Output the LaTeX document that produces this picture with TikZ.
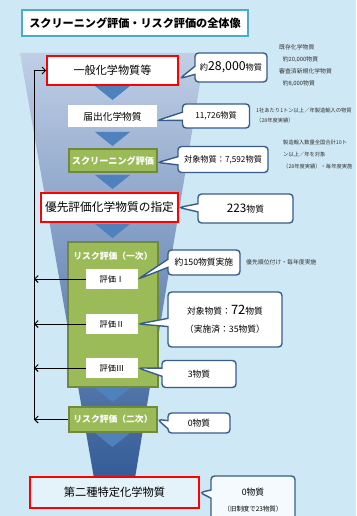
\documentclass[tikz,border=0pt]{standalone}
\usepackage{fontspec}
\setmainfont{Noto Sans CJK JP}
\usetikzlibrary{shapes.callouts,arrows.meta}

\definecolor{bgblue}{RGB}{206,233,245}
\definecolor{framecyan}{RGB}{75,172,198}
\definecolor{boxred}{RGB}{255,0,0}
\definecolor{leafgreen}{RGB}{155,187,89}
\definecolor{leafdark}{RGB}{113,137,63}
\definecolor{wedgeblue}{RGB}{79,129,189}
\definecolor{bubbleline}{RGB}{56,93,138}
\definecolor{funtop}{RGB}{192,207,230}
\definecolor{funmid}{RGB}{150,175,214}
\definecolor{funbot}{RGB}{50,90,150}
\definecolor{paleblue}{RGB}{228,242,249}

\newcommand{\fs}[1]{\fontsize{#1}{#1}\selectfont}
\tikzset{sz/.style 2 args={minimum width=#1*0.03cm,minimum height=#2*0.03cm}}

\begin{document}
\begin{tikzpicture}[x=0.03cm,y=-0.03cm]
	\tikzstyle{redbox}=[shape=rectangle,draw=boxred,line width=1.5pt,fill=white,inner sep=0pt]
	\tikzstyle{plainbox}=[shape=rectangle,fill=white,inner sep=0pt]
	\tikzstyle{greenbox}=[shape=rectangle,draw=leafdark,line width=1pt,fill=leafgreen,text=white,inner sep=0pt]
	\tikzstyle{bubble}=[rectangle callout,draw=bubbleline,line width=1.2pt,fill=white,rounded corners=3pt,callout pointer width=7pt,inner sep=1pt,align=center]
	\tikzstyle{memo}=[anchor=north west,inner sep=0pt,align=left,text=black!80]
	\tikzstyle{fback}=[line width=0.8pt,-{Straight Barb[length=3pt,width=6pt]}]
	\tikzstyle{wedge}=[fill=wedgeblue]

	\fill[bgblue] (0,0) rectangle (356,516);
	\useasboundingbox (0,0) rectangle (356,516);

	%%%
	\shade[top color=funtop, middle color=funmid, bottom color=funbot] (20,53) -- (205,53) -- (134,484) -- (95,484) -- cycle;

	\node (title) at (135,23) [shape=rectangle,draw=framecyan,line width=1.6pt,fill=white,sz={226}{26}] {\fs{9.5}\bfseries スクリーニング評価・リスク評価の全体像};

	%%%
	\foreach \y in {86,132,175,224,388,433}
		\fill[wedge] (95,\y) -- (130,\y) -- (112.5,\y+14) -- cycle;
	\foreach \y in {293,338}
		\fill[wedge] (100,\y) -- (125,\y) -- (112.5,\y+15) -- cycle;

	%%%
	\node (b1) at (112.5,70.5) [redbox, sz={131}{29}] {\fs{9.5}一般化学物質等};
	\node (b2) at (112.5,116.5) [plainbox, sz={89}{22}] {\fs{8.3}届出化学物質};
	\node (b3) at (113,160.5) [greenbox, sz={88}{23}] {\fs{7.8}\bfseries スクリーニング評価};
	\node (b4) at (109.5,207.5) [redbox, sz={137}{29}] {\fs{10}優先評価化学物質の指定};

	\node (rk1) at (113,314.5) [greenbox, sz={90}{145}] {};
	\node (rk1t) at (113,256) [text=white] {\fs{7.5}\bfseries リスク評価（一次）};
	\node (e1) at (112,279) [plainbox, sz={52}{20}] {\fs{7}評価Ⅰ};
	\node (e2) at (112,324) [plainbox, sz={52}{20}] {\fs{7}評価Ⅱ};
	\node (e3) at (112,368) [plainbox, sz={52}{20}] {\fs{7}評価Ⅲ};

	\node (r2) at (113,419.5) [greenbox, sz={88}{25}] {\fs{7.5}\bfseries リスク評価（二次）};
	\node (b9) at (114.5,492.5) [redbox, fill=paleblue, sz={169}{31}] {\fs{9.6}第二種特定化学物質};

	%%%
	\node (c1) at (231,67.5) [bubble, sz={72}{29}, callout absolute pointer={([shift={(1,8)}]b1.east)}] {\fs{7}約\fs{10.5}28,000\fs{7}物質};
	\node (c2) at (216,116) [bubble, sz={67}{24}, callout absolute pointer={([shift={(0,4)}]b2.east)}] {\fs{7}11,726物質};
	\node (c3) at (223,159.5) [bubble, sz={90}{26}, callout absolute pointer={([shift={(0,2)}]b3.east)}] {\fs{7}対象物質：7,592物質};
	\node (c4) at (245.5,208.5) [bubble, sz={95}{29}, callout absolute pointer={(b4.east)}] {\fs{10}223\fs{7.5}物質};
	\node (c5) at (204,262.5) [bubble, sz={72}{25}, callout absolute pointer={(e1.east)}] {\fs{7.5}約150物質実施};
	\node (c6) at (225,319.5) [bubble, sz={114}{55}, callout absolute pointer={(e2.east)}] {\fs{7.5}対象物質：\fs{11}72\fs{7.5}物質\\[3pt]\fs{7.5}（実施済：35物質）};
	\node (c7) at (199,374) [bubble, sz={74}{27}, callout absolute pointer={(e3.east)}] {\fs{7.5}3物質};
	\node (c8) at (199,423) [bubble, sz={62}{20}, callout absolute pointer={(r2.east)}] {\fs{7.5}0物質};
	\node (c9) at (253,500) [bubble, fill=paleblue!40, sz={84}{48}, callout absolute pointer={(b9.east)}] {\fs{7.5}0物質\\[2pt]\fs{5.5}（旧制度で23物質）};

	%%%
	\node (m1) at (279,44) [memo, font=\fontsize{5}{10.2}\selectfont] {既存化学物質\\\hspace*{3pt}約20,000物質\\審査済新規化学物質\\\hspace*{3pt}約8,000物質};
	\node (m2) at (256,108) [memo, font=\fontsize{4.5}{8.5}\selectfont] {1社あたり1トン以上／年製造輸入の物質\\（28年度実績）};
	\node (m3) at (283,140) [memo, font=\fontsize{4.5}{10}\selectfont] {製造輸入数量全国合計10ト\\ン以上／年を対象\\（28年度実績）・毎年度実施};
	\node (m5) at (246,259) [memo, font=\fontsize{5}{6}\selectfont] {優先順位付け・毎年度実施};

	%%%
	\coordinate (vx) at (34,0);
	\draw[fback] (e1.west) -- (e1.west -| vx);
	\draw[fback] (e2.west) -- (e2.west -| vx);
	\draw[fback] (e3.west) -- (e3.west -| vx);
	\draw[fback] (r2.west) -- (r2.west -| vx);
	\draw[fback] (r2.west -| vx) |- (b1.west);
\end{tikzpicture}
\end{document}
